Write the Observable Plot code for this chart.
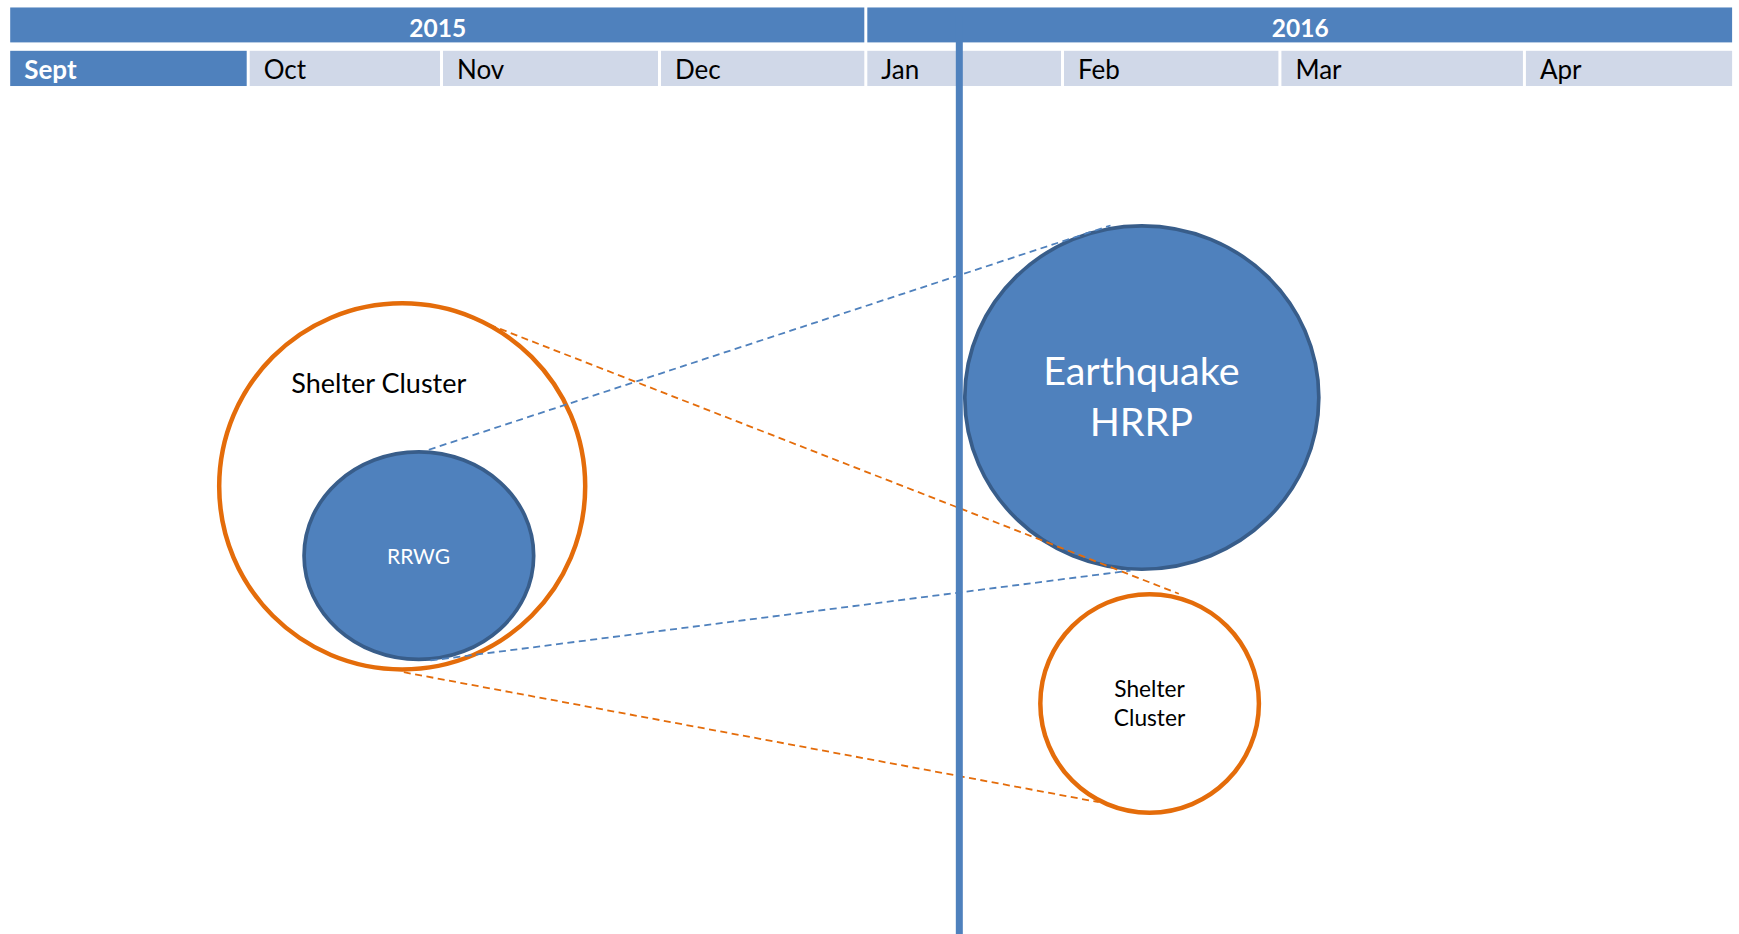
<!DOCTYPE html>
<html>
<head>
<meta charset="utf-8">
<script src="https://cdn.jsdelivr.net/npm/d3@7"></script>
<script src="https://cdn.jsdelivr.net/npm/@observablehq/plot@0.6"></script>
<style>
  html, body { margin: 0; padding: 0; background: #fff; overflow: hidden; }
  #chart svg { display: block; }
</style>
</head>
<body>
<div id="chart"></div>
<script>
// ---------- DATA (timeline units: months since 1 Sept 2015; level: % of page height) ----------
const months = ["Sept", "Oct", "Nov", "Dec", "Jan", "Feb", "Mar", "Apr"];
const monthEdges = [0, 1.1108, 2.0073, 3.0184, 3.9752, 4.8875, 5.8958, 7.0298, 8];
const years = ["2015", "2016"];
const yearFirstMonth = [0, 4];
const yearLastMonth = [3, 7];
const currentMonth = "Sept";

const bubbleNames = ["Shelter Cluster 2015", "RRWG", "Earthquake HRRP", "Shelter Cluster 2016"];
const bubbleTime = [1.8227, 1.9000, 5.2530, 5.2892];
const bubbleLevel = [52.02, 59.44, 42.51, 75.26];
const bubbleScope = [0.8488, 0.4814, 0.7963, 0.5069];
const bubbleKind = ["cluster", "group", "plan", "cluster"];

const labelText = ["Shelter Cluster", "RRWG", "Earthquake\nHRRP", "Shelter\nCluster"];
const labelTime = [1.7142, 1.8984, 5.2507, 5.2887];
const labelLevel = [41.11, 59.60, 42.15, 75.09];

const linkFromTime = [1.9461, 2.0778, 1.9540, 1.8302];
const linkFromLevel = [48.10, 33.37, 70.66, 71.92];
const linkToTime = [5.1078, 5.4246, 5.2006, 5.0536];
const linkToLevel = [24.09, 63.52, 61.03, 85.83];
const linkKind = ["blue", "orange", "blue", "orange"];

const markerTime = [4.4066];
const markerFrom = [1.71];
const markerTo = [100];

// ---------- LAYOUT & STYLE ----------
const W = 1739, H = 934;
const BLUE = "#4F81BD", DARK = "#385D8A", ORANGE = "#E46C0A", LIGHT = "#D0D8E8";
const yearRow = [0.80, 4.54], monthRow = [5.44, 9.21];
const bubbleStyle = {
  cluster: {fill: "white", stroke: ORANGE, strokeWidth: 4.5, aspect: 1},
  group: {fill: BLUE, stroke: DARK, strokeWidth: 3.7, aspect: 1.106},
  plan: {fill: BLUE, stroke: DARK, strokeWidth: 3.7, aspect: 1.031}
};
const labelStyle = [
  {fontSize: 27, fill: "black", lineHeight: 1},
  {fontSize: 21, fill: "white", lineHeight: 1},
  {fontSize: 39.5, fill: "white", lineHeight: 1.30},
  {fontSize: 22.7, fill: "black", lineHeight: 1.28}
];

function ellipseSymbol(aspect) {
  return {
    draw(ctx, size) {
      const ry = Math.sqrt(size / Math.PI), rx = ry * aspect, k = 0.5522847498;
      ctx.moveTo(rx, 0);
      ctx.bezierCurveTo(rx, ry * k, rx * k, ry, 0, ry);
      ctx.bezierCurveTo(-rx * k, ry, -rx, ry * k, -rx, 0);
      ctx.bezierCurveTo(-rx, -ry * k, -rx * k, -ry, 0, -ry);
      ctx.bezierCurveTo(rx * k, -ry, rx, -ry * k, rx, 0);
      ctx.closePath();
    }
  };
}

// ---------- TABLES ----------
const monthTable = months.map((m, i) => ({name: m, x1: monthEdges[i], x2: monthEdges[i + 1], current: m === currentMonth}));
const yearTable = years.map((y, i) => ({name: y, x1: monthEdges[yearFirstMonth[i]], x2: monthEdges[yearLastMonth[i] + 1]}));
const bubbleTable = bubbleNames.map((n, i) => ({name: n, x: bubbleTime[i], y: bubbleLevel[i], r: bubbleScope[i], kind: bubbleKind[i]}));
const labelTable = labelText.map((t, i) => ({text: t, x: labelTime[i], y: labelLevel[i], i}));
const linkTable = linkKind.map((k, i) => ({kind: k, x1: linkFromTime[i], y1: linkFromLevel[i], x2: linkToTime[i], y2: linkToLevel[i]}));

const pxPerMonth = (1733.6 - 8.7) / 8;

const marks = [
  // header: years
  Plot.rect(yearTable, {x1: "x1", x2: "x2", y1: () => yearRow[0], y2: () => yearRow[1], fill: BLUE, insetLeft: 1.5, insetRight: 1.5}),
  Plot.text(yearTable, {x: d => (d.x1 + d.x2) / 2, y: () => (yearRow[0] + yearRow[1]) / 2, dy: 3.5, text: "name", fill: "white", fontWeight: "bold", fontSize: 24.5}),
  // header: months
  Plot.rect(monthTable, {x1: "x1", x2: "x2", y1: () => monthRow[0], y2: () => monthRow[1], fill: d => d.current ? BLUE : LIGHT, insetLeft: 1.5, insetRight: 1.5}),
  Plot.text(monthTable.filter(d => d.current), {x: "x1", y: () => (monthRow[0] + monthRow[1]) / 2, text: "name", dx: 15, dy: 1.5, textAnchor: "start", fill: "white", fontWeight: "bold", fontSize: 26}),
  Plot.text(monthTable.filter(d => !d.current), {x: "x1", y: () => (monthRow[0] + monthRow[1]) / 2, text: "name", dx: 15, dy: 1.5, textAnchor: "start", fill: "black", fontSize: 26})
];

// bubbles
for (const b of bubbleTable) {
  const s = bubbleStyle[b.kind];
  marks.push(Plot.dot([b], {x: "x", y: "y", r: "r", fill: s.fill, stroke: s.stroke, strokeWidth: s.strokeWidth, symbol: ellipseSymbol(s.aspect)}));
}
// labels
for (const l of labelTable) {
  const s = labelStyle[l.i];
  marks.push(Plot.text([l], {x: "x", y: "y", text: "text", fill: s.fill, fontSize: s.fontSize, lineHeight: s.lineHeight, textAnchor: "middle"}));
}
// dashed connectors
marks.push(Plot.link(linkTable, {x1: "x1", y1: "y1", x2: "x2", y2: "y2", stroke: d => d.kind === "blue" ? BLUE : ORANGE, strokeWidth: 1.8, strokeDasharray: "7,4.5"}));
// current-date marker
marks.push(Plot.ruleX(markerTime, {y1: () => markerFrom[0], y2: () => markerTo[0], stroke: BLUE, strokeWidth: 7}));

const chart = Plot.plot({
  width: W,
  height: H,
  marginLeft: 0, marginRight: 0, marginTop: 0, marginBottom: 0,
  x: {domain: [0, 8], range: [8.7, 1733.6], axis: null},
  y: {domain: [0, 100], range: [0, H], axis: null},
  r: {type: "linear", domain: [0, 1], range: [0, pxPerMonth]},
  color: {type: "identity"},
  style: {fontFamily: "Lato, 'Open Sans', sans-serif", background: "white", overflow: "visible"},
  marks
});
document.getElementById("chart").appendChild(chart);
</script>
</body>
</html>
